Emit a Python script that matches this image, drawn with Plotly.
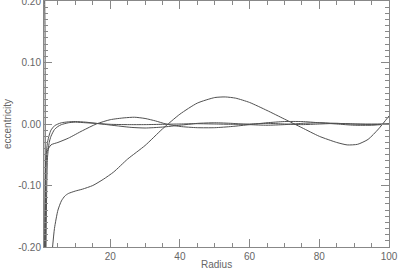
import plotly.graph_objects as go

# eccentricity profiles vs radius
radius_a = [3.3, 4, 5, 6, 7, 8, 10, 12, 15, 18, 21, 25, 30, 35, 40, 45, 50, 53, 56,
            60, 65, 70, 75, 80, 85, 88, 91, 94, 97, 100]
ecc_a = [-0.21, -0.17, -0.14, -0.125, -0.117, -0.113, -0.109, -0.106, -0.1, -0.09,
         -0.078, -0.057, -0.035, -0.008, 0.016, 0.034, 0.043, 0.044, 0.042, 0.035,
         0.022, 0.008, -0.006, -0.02, -0.03, -0.034, -0.033, -0.025, -0.008, 0.013]

radius_b = [1.3, 1.5, 1.9, 3, 5, 8, 12, 16, 20, 24, 27, 30, 33, 36, 40, 45, 50, 55,
            60, 65, 70, 75, 80, 85, 90, 95, 100]
ecc_b = [-0.25, -0.1, -0.045, -0.034, -0.03, -0.023, -0.011, 0.0, 0.007, 0.01, 0.011,
         0.009, 0.005, 0.0, -0.004, -0.006, -0.006, -0.004, -0.001, 0.002, 0.004,
         0.004, 0.002, 0.0, -0.002, -0.002, 0.0]

radius_c = [1.1, 1.5, 2, 2.5, 3, 4, 5, 6, 8, 10, 13, 16, 19, 22, 26, 30, 35, 40, 45,
            50, 55, 60, 65, 70, 75, 80, 85, 90, 95, 100]
ecc_c = [-0.25, -0.06, -0.03, -0.018, -0.01, -0.003, 0.0, 0.002, 0.0035, 0.004, 0.003,
         0.001, -0.001, -0.003, -0.0055, -0.0065, -0.005, -0.002, 0.001, 0.002, 0.001,
         -0.001, -0.002, -0.001, 0.001, 0.002, 0.001, 0.0, -0.001, 0.0]

radius_d = [1.5, 2, 2.5, 3, 4, 5, 6, 8, 10, 13, 16, 20, 25, 30, 35, 40, 45, 50, 55,
            60, 65, 70, 75, 80, 85, 90, 95, 100]
ecc_d = [-0.25, -0.055, -0.03, -0.02, -0.009, -0.004, -0.001, 0.002, 0.003, 0.002,
         0.001, -0.0005, -0.001, -0.001, -0.0005, 0.0, 0.0005, 0.0, -0.0005, 0.0,
         0.001, 0.0, -0.001, 0.0, 0.001, 0.0, 0.0, 0.0]

# steep curve that shoots up near the inner edge
radius_e = [1.1, 1.2, 1.3, 1.35]
ecc_e = [0.4, 0.2, 0.15, -0.3]

x_ticks = [20, 40, 60, 80, 100]
y_ticks = [-0.2, -0.1, 0.0, 0.1, 0.2]
y_labels = ["-0.20", "-0.10", "0.00", "0.10", "0.20"]

fig = go.Figure()
for xs, ys in [(radius_a, ecc_a), (radius_b, ecc_b), (radius_c, ecc_c),
               (radius_d, ecc_d), (radius_e, ecc_e)]:
    fig.add_trace(go.Scatter(x=xs, y=ys, mode="lines",
                             line=dict(color="#505050", width=1, shape="spline", smoothing=0.6),
                             showlegend=False))

font = dict(family="Liberation Sans", size=10, color="#666666")
axis_common = dict(
    showgrid=False, zeroline=False, showline=True, linecolor="#888888", linewidth=1,
    mirror="allticks", ticks="inside", ticklen=8, tickcolor="#888888", tickwidth=1,
    tickfont=font, automargin=False, ticklabeloverflow="allow",
)

fig.update_xaxes(range=[1, 100], tickvals=x_ticks,
                 minor=dict(dtick=5, ticks="inside", ticklen=4, tickcolor="#888888"),
                 **axis_common)
fig.update_yaxes(range=[-0.2, 0.2], tickvals=y_ticks, ticktext=y_labels,
                 minor=dict(dtick=0.01, ticks="inside", ticklen=4, tickcolor="#888888"),
                 **axis_common)

# axis titles as annotations so they sit where the reference puts them
fig.add_annotation(text="Radius", xref="paper", yref="paper", x=0.5, y=0,
                   yshift=-10, yanchor="top", showarrow=False, font=font)
fig.add_annotation(text="eccentricity", xref="paper", yref="paper", x=0, y=0.5,
                   xshift=-37, xanchor="center", textangle=-90, showarrow=False, font=font)

fig.update_layout(
    width=398, height=271,
    margin=dict(l=44, r=9, t=1, b=24),
    plot_bgcolor="white", paper_bgcolor="white",
)

# drop the default page margin so the figure sits at the window's corner
fig.write_html("out.html", config={"displayModeBar": False},
               post_script="document.body.style.margin='0';")
